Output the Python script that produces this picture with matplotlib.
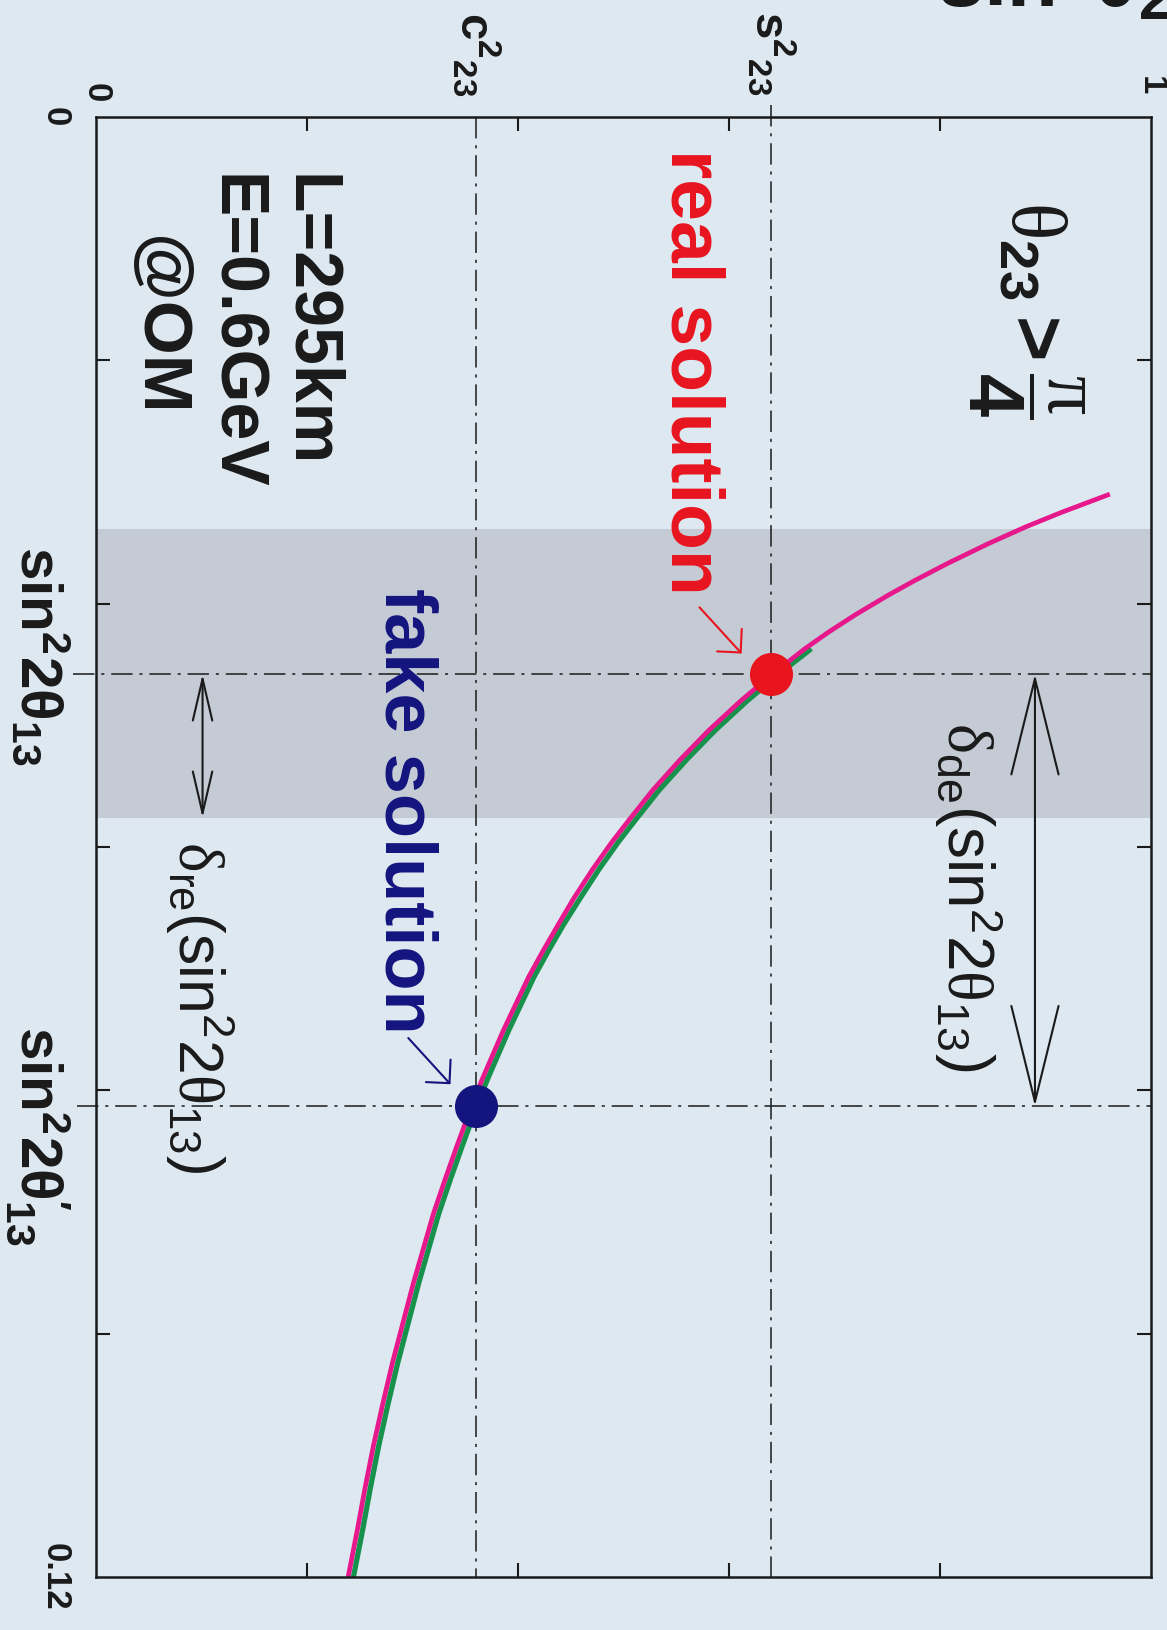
import matplotlib.pyplot as plt

plt.rcParams['font.family'] = ['Liberation Sans', 'DejaVu Sans']
plt.rcParams['mathtext.fontset'] = 'custom'
plt.rcParams['mathtext.rm'] = 'Liberation Sans'
plt.rcParams['mathtext.bf'] = 'Liberation Sans:bold'
plt.rcParams['mathtext.it'] = 'Liberation Sans:italic'
plt.rcParams['mathtext.sf'] = 'Liberation Serif'   # used for the greek letters

# ---- values ----
s23_sq = 0.64          # sin^2 theta23
c23_sq = 0.36          # cos^2 theta23
s13_real = 0.0458      # sin^2 2theta13
s13_fake = 0.0813      # sin^2 2theta13'
band_lo = 0.0339       # shaded range of sin^2 2theta13
band_hi = 0.0576
d_de_pos = 0.89        # where the delta_de arrow sits (sin^2 theta23)
d_re_pos = 0.101       # where the delta_re arrow sits

# magenta curve: sin^2 2theta13 vs sin^2 theta23
pink_s13 = [0.0310, 0.0325, 0.0337, 0.0351, 0.0367, 0.0381, 0.0393, 0.0409,
            0.0423, 0.0437, 0.0458, 0.0480, 0.0504, 0.0528, 0.0553, 0.0577,
            0.0596, 0.0618, 0.0642, 0.0664, 0.0685, 0.0707, 0.0729, 0.0751,
            0.0771, 0.0791, 0.0813, 0.0846, 0.0873, 0.0901, 0.0928, 0.0958,
            0.0991, 0.1024, 0.1057, 0.1092, 0.1127, 0.1160, 0.1200]
pink_s23 = [0.961, 0.915, 0.881, 0.845, 0.807, 0.776, 0.751, 0.720,
            0.695, 0.672, 0.641, 0.611, 0.581, 0.554, 0.528, 0.506,
            0.489, 0.471, 0.453, 0.438, 0.424, 0.410, 0.398, 0.386,
            0.376, 0.366, 0.356, 0.342, 0.331, 0.320, 0.311, 0.301,
            0.291, 0.281, 0.272, 0.263, 0.255, 0.248, 0.239]

# green curve
green_s13 = [0.0437, 0.0458, 0.0480, 0.0504, 0.0528, 0.0553, 0.0577, 0.0596,
             0.0618, 0.0642, 0.0664, 0.0685, 0.0707, 0.0729, 0.0751, 0.0771,
             0.0791, 0.0813, 0.0846, 0.0873, 0.0901, 0.0928, 0.0958, 0.0991,
             0.1024, 0.1057, 0.1092, 0.1127, 0.1160, 0.1200]
green_s23 = [0.678, 0.647, 0.617, 0.587, 0.560, 0.534, 0.512, 0.495,
             0.477, 0.459, 0.443, 0.429, 0.415, 0.403, 0.391, 0.381,
             0.371, 0.361, 0.347, 0.336, 0.325, 0.316, 0.306, 0.296,
             0.286, 0.277, 0.268, 0.260, 0.253, 0.244]

top_ticks = [0.2, 0.4, 0.6, 0.8]
side_ticks = [0.02, 0.04, 0.06, 0.08, 0.10]
top_labels = ['0', r'$\mathbf{c}^{\mathbf{2}}{}_{\mathbf{23}}$',
              r'$\mathbf{s}^{\mathbf{2}}{}_{\mathbf{23}}$', '1']
top_label_pos = [0.0, c23_sq, s23_sq, 1.0]
top_label_gap = [-0.0012, -0.0017, -0.0018, -0.0018]

bg = '#dde8f1'
band_col = '#c4cbd4'
pink = '#e6188c'
green = '#17924c'
red = '#e8141e'
navy = '#14147f'
ink = '#1a1a1a'

fig = plt.figure(figsize=(11.67, 16.30), dpi=100, facecolor=bg)
ax = fig.add_axes([96 / 1167, 53 / 1630, 1055 / 1167, 1460 / 1630])
ax.set_facecolor(bg)
ax.set_xlim(0, 1)
ax.set_ylim(0.12, 0)

for sp in ax.spines.values():
    sp.set_linewidth(1.8)
    sp.set_color(ink)
ax.set_xticks(top_ticks)
ax.set_yticks(side_ticks)
ax.tick_params(direction='in', length=10, width=1.5, color=ink,
               top=True, right=True, labelbottom=False, labelleft=False)

ax.axhspan(band_lo, band_hi, color=band_col, lw=0, zorder=0.5)

dashdot = (0, (14, 4.5, 2, 4.5))
ax.plot([c23_sq, c23_sq], [0, 0.12], color=ink, lw=1.1, ls=dashdot, zorder=1)
ax.plot([s23_sq, s23_sq], [-0.001, 0.12], color=ink, lw=1.1, ls=dashdot,
        zorder=1, clip_on=False)
ax.plot([-0.022, 1], [s13_real, s13_real], color=ink, lw=1.1, ls=dashdot,
        zorder=1, clip_on=False)
ax.plot([-0.018, 1], [s13_fake, s13_fake], color=ink, lw=1.1, ls=dashdot,
        zorder=1, clip_on=False)

ax.plot(green_s23, green_s13, color=green, lw=3.8, solid_capstyle='butt',
        solid_joinstyle='round', zorder=2)
ax.plot(pink_s23, pink_s13, color=pink, lw=3.4, solid_capstyle='butt',
        solid_joinstyle='round', zorder=2.1)

ax.plot([s23_sq], [s13_real], 'o', ms=31, color=red, mew=0, zorder=3)
ax.plot([c23_sq], [s13_fake], 'o', ms=31, color=navy, mew=0, zorder=3)

# double arrows for the two widths
ax.annotate('', xy=(d_de_pos, s13_real), xytext=(d_de_pos, s13_fake),
            arrowprops=dict(arrowstyle='<->,head_length=69,head_width=17',
                            mutation_scale=1, lw=1.5, color=ink,
                            shrinkA=0, shrinkB=0), zorder=4)
ax.annotate('', xy=(d_re_pos, s13_real), xytext=(d_re_pos, band_hi),
            arrowprops=dict(arrowstyle='<->,head_length=30,head_width=7',
                            mutation_scale=1, lw=1.5, color=ink,
                            shrinkA=0, shrinkB=0), zorder=4)

# pointer arrows to the solutions
ax.annotate('', xy=(0.612, 0.0441), xytext=(0.572, 0.0403),
            arrowprops=dict(arrowstyle='->,head_length=12,head_width=12',
                            mutation_scale=1, lw=1.5, color=red,
                            shrinkA=0, shrinkB=0), zorder=4)
ax.annotate('', xy=(0.336, 0.0795), xytext=(0.296, 0.0757),
            arrowprops=dict(arrowstyle='->,head_length=12,head_width=12',
                            mutation_scale=1, lw=1.5, color=navy,
                            shrinkA=0, shrinkB=0), zorder=4)


def vtext(u, v, s, size, color=ink, weight='bold', ha='left', va='baseline'):
    ax.text(u, v, s, fontsize=size, color=color, fontweight=weight,
            rotation=-90, rotation_mode='anchor', ha=ha, va=va,
            clip_on=False, zorder=5)


# tick labels along the top edge
for lab, pos, gap in zip(top_labels, top_label_pos, top_label_gap):
    size = 25 if lab in ('0', '1') else 34
    vtext(pos, gap, lab, size, ha='right', va='center')

# tick labels along the left edge
vtext(-0.048, 0.0, '0', 25, ha='center')
vtext(-0.048, 0.12, '0.12', 25, ha='center')
vtext(-0.0713, 0.0353, r'$\mathbf{sin^2 2\theta_{13}}$', 42)
vtext(-0.0713, 0.0747, r'$\mathbf{sin^2 2\theta^{\prime}_{13}}$', 42)

# axis title running off the top edge
fig.text(937 / 1167, 1 - 6 / 1630, r'$\mathbf{sin^2\theta_{23}}$',
         fontsize=60, color=ink, ha='left', va='baseline')

vtext(0.5457, 0.0026, 'real solution', 54, color=red)
vtext(0.2742, 0.0387, 'fake solution', 52, color=navy)
vtext(0.8673, 0.0069,
      r'$\mathsf{\theta}_{\mathbf{23}}\mathbf{>}\dfrac{\mathsf{\pi}}{\mathbf{4}}$', 56)
vtext(0.1850, 0.0047, 'L=295km', 49)
vtext(0.1139, 0.0047, 'E=0.6GeV', 49)
vtext(0.0420, 0.0098, '@OM', 50)

vtext(0.8070, 0.0497,
      r'$\mathsf{\delta}_{\mathrm{de}}(\mathrm{sin}^2 2\mathsf{\theta}_{13})$',
      46, weight='normal')
vtext(0.0782, 0.0595,
      r'$\mathsf{\delta}_{\mathrm{re}}(\mathrm{sin}^2 2\mathsf{\theta}_{13})$',
      45, weight='normal')

fig.savefig('out.png', dpi=100, facecolor=bg)
